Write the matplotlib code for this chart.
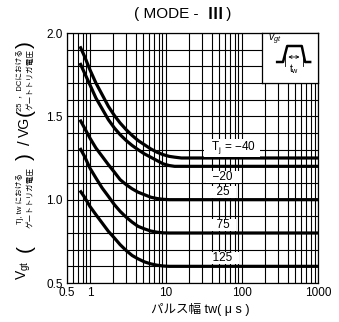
import numpy as np
import matplotlib
matplotlib.use("Agg")
import matplotlib.pyplot as plt
from matplotlib.ticker import FixedLocator, NullFormatter, FixedFormatter

plt.rcParams['font.family'] = ['Liberation Sans', 'Noto Sans CJK JP', 'DejaVu Sans']
plt.rcParams['mathtext.fontset'] = 'custom'
plt.rcParams['mathtext.rm'] = 'Liberation Sans'
plt.rcParams['mathtext.it'] = 'Liberation Sans:italic'

# pulse width tw (us)
tw = [0.74, 0.85, 1.0, 1.2, 1.45, 1.75, 2.1, 2.5, 3.0, 3.6, 4.3, 5.2, 6.3, 7.6, 9.2, 11, 13, 16, 1000]
# Vgt(Tj, tw) / VGT(25C, DC)
v_m40 = [1.92, 1.86, 1.78, 1.70, 1.63, 1.56, 1.505, 1.46, 1.42, 1.385, 1.355, 1.33, 1.305,
         1.285, 1.27, 1.26, 1.255, 1.25, 1.25]
v_m20 = [1.82, 1.76, 1.69, 1.61, 1.545, 1.48, 1.43, 1.39, 1.355, 1.325, 1.30, 1.275, 1.255,
         1.235, 1.215, 1.205, 1.20, 1.20, 1.20]
v_25 = [1.48, 1.43, 1.37, 1.31, 1.26, 1.21, 1.165, 1.12, 1.09, 1.065, 1.045, 1.03, 1.015,
        1.007, 1.002, 1.0, 1.0, 1.0, 1.0]
v_75 = [1.31, 1.26, 1.19, 1.13, 1.07, 1.02, 0.97, 0.93, 0.895, 0.865, 0.84, 0.825, 0.812,
        0.805, 0.801, 0.80, 0.80, 0.80, 0.80]
v_125 = [1.055, 1.015, 0.96, 0.91, 0.86, 0.81, 0.77, 0.73, 0.695, 0.665, 0.645, 0.627, 0.615,
         0.607, 0.602, 0.60, 0.60, 0.60, 0.60]

series = [v_m40, v_m20, v_25, v_75, v_125]
temp_labels = ["T$_\\mathregular{j}$ = \u221240", "\u221220", "25", "75", "125"]
# label anchor (tw, ratio)
label_pos = [(74, 1.31), (56, 1.137), (56, 1.047), (56, 0.848), (56, 0.65)]

x_ticks = [0.5, 1, 10, 100, 1000]
x_ticklabels = ["0.5", "1", "10", "100", "1000"]
y_ticks = [0.5, 1.0, 1.5, 2.0]

W, H = 339, 322
fig = plt.figure(figsize=(W / 100, H / 100), dpi=100)
ax = fig.add_axes([67 / W, 39 / H, 251 / W, 250 / H])

for v in series:
    ax.plot(tw, v, color='k', lw=2.3, solid_capstyle='butt', solid_joinstyle='round', zorder=3)

ax.set_xscale('log')
ax.set_xlim(0.5, 1000)
ax.set_ylim(0.5, 2.0)

minor_x = [m * 10.0 ** e for e in range(-1, 3) for m in range(2, 10)]
minor_x = [m for m in minor_x if 0.5 < m < 1000]
ax.xaxis.set_major_locator(FixedLocator(x_ticks))
ax.xaxis.set_major_formatter(FixedFormatter(x_ticklabels))
ax.xaxis.set_minor_locator(FixedLocator(minor_x))
ax.xaxis.set_minor_formatter(NullFormatter())
ax.yaxis.set_major_locator(FixedLocator(y_ticks))
ax.yaxis.set_minor_locator(FixedLocator(np.arange(0.6, 2.0, 0.1)))
ax.set_yticklabels(["0.5", "1.0", "1.5", "2.0"])
ax.tick_params(which='both', length=0, labelsize=8.5, pad=3)
ax.grid(which='both', color='k', lw=0.8)
ax.set_axisbelow(True)
for s in ax.spines.values():
    s.set_linewidth(0.9)

for lab, (lx, ly) in zip(temp_labels, label_pos):
    ax.text(lx, ly, "  " + lab + "  ", ha='center', va='center', fontsize=8.5,
            bbox=dict(facecolor='white', edgecolor='none', pad=0.2), zorder=4)

# pulse inset
ins = ax.inset_axes([0.777, 0.8, 0.223, 0.2])
ins.set_facecolor('white')
ins.set_zorder(5)
ins.set_xticks([])
ins.set_yticks([])
ins.set_xlim(0, 1)
ins.set_ylim(0, 1)
for s in ins.spines.values():
    s.set_linewidth(0.9)
ins.plot([0.27, 0.375, 0.45, 0.71, 0.77, 0.86], [0.42, 0.42, 0.74, 0.74, 0.42, 0.42],
         color='k', lw=1.8)
ins.annotate("", xy=(0.42, 0.52), xytext=(0.72, 0.52),
             arrowprops=dict(arrowstyle='<->', lw=0.6, mutation_scale=5))
ins.plot([0.41, 0.41], [0.35, 0.6], color='k', lw=0.6)
ins.plot([0.73, 0.73], [0.35, 0.6], color='k', lw=0.6)
ins.text(0.57, 0.28, "t$_\\mathregular{w}$", ha='center', va='center', fontsize=7.5)
ins.text(0.22, 0.86, "$v_{gt}$", ha='center', va='center', fontsize=7.5)

# title in pieces so the roman numeral uses the CJK glyph
fig.text(203 / W, 1 - 14 / H, "( MODE - ", ha='right', va='center', fontsize=11)
fig.text(215 / W, 1 - 14 / H, "\u2162", ha='center', va='center', fontsize=11,
         family='Noto Sans CJK JP', weight='bold')
fig.text(222 / W, 1 - 14 / H, " )", ha='left', va='center', fontsize=11)

fig.text(200 / W, 1 - 310 / H, "パルス幅 tw( \u03bc s )", ha='center', va='center', fontsize=9)

# y label built from pieces (rotated)
def ytxt(x, y, s, size, **kw):
    fig.text(x / W, 1 - y / H, s, rotation=90, ha='center', va='center', fontsize=size, **kw)

ytxt(24, 270, "V$_\\mathregular{gt}$", 10)
ytxt(25, 249, "(", 15)
ytxt(20, 198, "Tj, tw における", 5.5)
ytxt(31, 198, "ゲートトリガ電圧", 5.5)
ytxt(25, 157, ")", 15)
ytxt(25, 143, "/", 12)
ytxt(25, 127, "VG", 10)
ytxt(25, 113, "(", 15)
ytxt(20, 80, "25  ，DCにおける", 5.5)
ytxt(31, 80, "ゲートトリガ電圧", 5.5)
ytxt(25, 45, ")", 15)

fig.savefig("out.png", dpi=100)
